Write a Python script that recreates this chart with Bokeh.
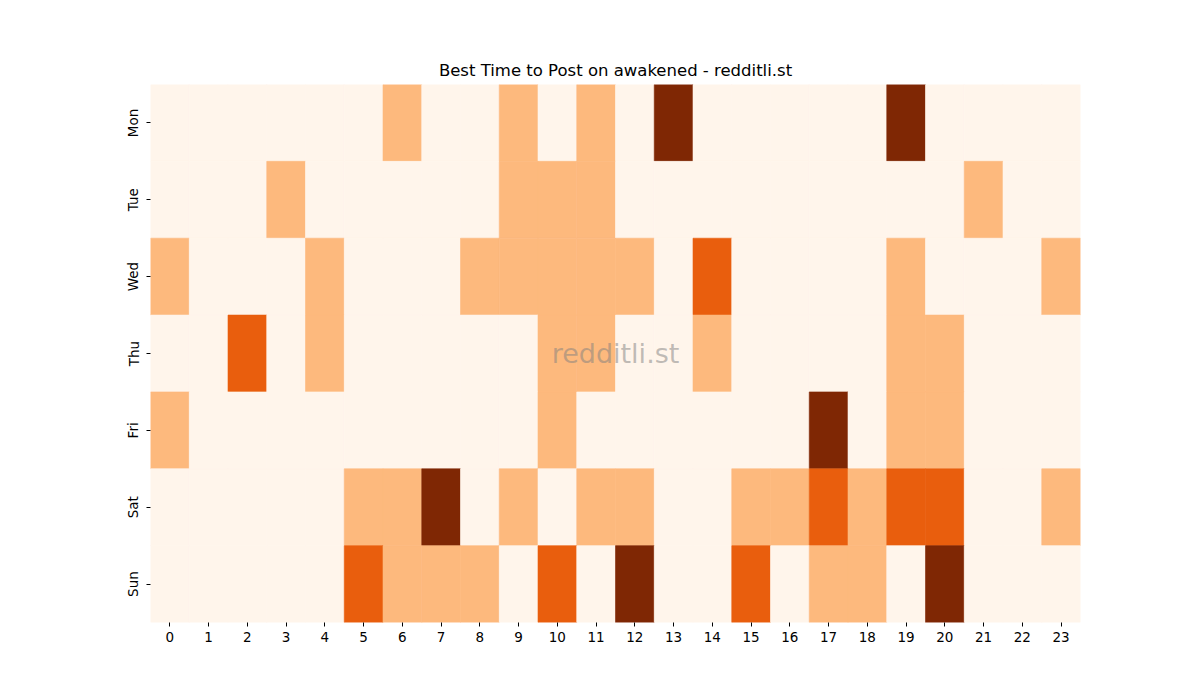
from bokeh.plotting import figure
from bokeh.models import ColumnDataSource, FixedTicker, LinearColorMapper
from bokeh.transform import transform
from bokeh.core.properties import value
from bokeh.embed import file_html
from bokeh.resources import INLINE

# Posting activity per weekday and hour (colour level 0-3)
days = ["Mon", "Tue", "Wed", "Thu", "Fri", "Sat", "Sun"]
hours = list(range(24))
mon = [0, 0, 0, 0, 0, 0, 1, 0, 0, 1, 0, 1, 0, 3, 0, 0, 0, 0, 0, 3, 0, 0, 0, 0]
tue = [0, 0, 0, 1, 0, 0, 0, 0, 0, 1, 1, 1, 0, 0, 0, 0, 0, 0, 0, 0, 0, 1, 0, 0]
wed = [1, 0, 0, 0, 1, 0, 0, 0, 1, 1, 1, 1, 1, 0, 2, 0, 0, 0, 0, 1, 0, 0, 0, 1]
thu = [0, 0, 2, 0, 1, 0, 0, 0, 0, 0, 1, 1, 0, 0, 1, 0, 0, 0, 0, 1, 1, 0, 0, 0]
fri = [1, 0, 0, 0, 0, 0, 0, 0, 0, 0, 1, 0, 0, 0, 0, 0, 0, 3, 0, 1, 1, 0, 0, 0]
sat = [0, 0, 0, 0, 0, 1, 1, 3, 0, 1, 0, 1, 1, 0, 0, 1, 1, 2, 1, 2, 2, 0, 0, 1]
sun = [0, 0, 0, 0, 0, 2, 1, 1, 1, 0, 2, 0, 3, 0, 0, 2, 0, 1, 1, 0, 3, 0, 0, 0]
rows = [mon, tue, wed, thu, fri, sat, sun]

palette = ["#fff5eb", "#fdb97d", "#e95e0d", "#7f2704"]

xs, ys, vals = [], [], []
for d, row in zip(days, rows):
    for h, v in zip(hours, row):
        xs.append(h)
        ys.append(d)
        vals.append(v)
source = ColumnDataSource(dict(x=xs, y=ys, v=vals))
mapper = LinearColorMapper(palette=palette, low=0, high=3)

FONT = "DejaVu Sans"

p = figure(frame_width=930, frame_height=538, min_border_left=150, min_border_right=112,
           min_border_top=84, min_border_bottom=70,
           x_range=(-0.5, 23.5), y_range=list(reversed(days)),
           title="Best Time to Post on awakened - redditli.st",
           output_backend="svg", toolbar_location=None, tools="")

p.rect(x="x", y="y", width=1, height=1, source=source,
       fill_color=transform("v", mapper), line_color=transform("v", mapper), line_width=0.6)

p.text(x=[11.5], y=["Thu"], text=["redditli.st"], text_align="center", text_baseline="middle",
       text_font=value(FONT), text_font_size="27px", text_color="gray", text_alpha=0.5)

p.title.align = "center"
p.title.text_font = FONT
p.title.text_font_size = "16.5px"
p.title.text_font_style = "normal"
p.title.text_color = "black"

p.xaxis.ticker = FixedTicker(ticks=hours)
for ax in (p.xaxis[0], p.yaxis[0]):
    ax.axis_line_color = None
    ax.major_tick_in = 0
    ax.major_tick_out = 4
    ax.minor_tick_line_color = None
    ax.major_label_text_font = FONT
    ax.major_label_text_font_size = "13.5px"
    ax.major_label_text_color = "black"
    ax.major_tick_line_color = "black"
p.yaxis.major_label_orientation = "vertical"

p.grid.grid_line_color = None
p.outline_line_color = None
p.background_fill_color = "white"
p.border_fill_color = "white"

open("out.html", "w").write(file_html(p, INLINE))
